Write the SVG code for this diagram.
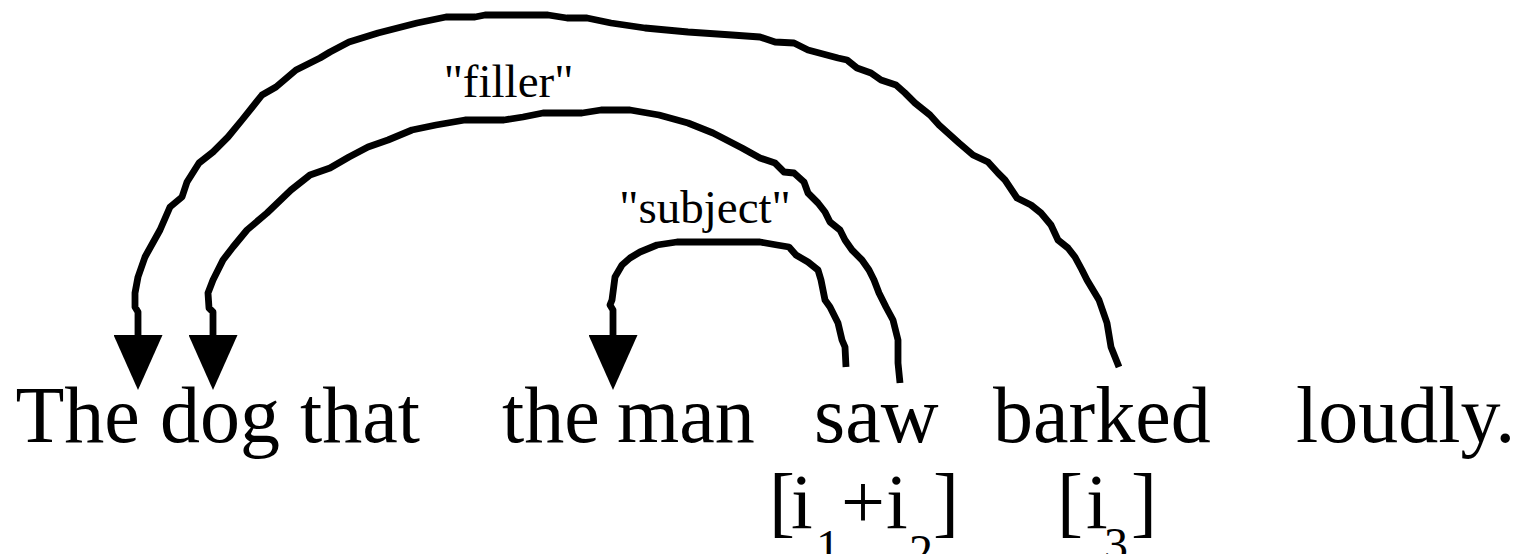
<svg xmlns="http://www.w3.org/2000/svg" width="1527" height="554" viewBox="0 0 1527 554">
<style>
.w{font-family:"Liberation Serif","Times New Roman",serif;font-size:80px;fill:#000}
.i{font-family:"Liberation Serif","Times New Roman",serif;font-size:78px;fill:#000}
.s{font-size:48px}
.lbl{font-family:"Liberation Serif","Times New Roman",serif;font-size:47px;fill:#000;text-anchor:middle}
.arc{fill:none;stroke:#000;stroke-width:6.8;stroke-linejoin:round;stroke-linecap:butt;marker-end:url(#ah)}
</style>
<defs>
<marker id="ah" markerUnits="userSpaceOnUse" orient="auto" viewBox="0 -24.5 55 49" refX="5" refY="0" markerWidth="55" markerHeight="49">
<path d="M0,-24.5 L55,0 L0,24.5 Z" fill="#000"/>
</marker>
</defs>
<rect width="1527" height="554" fill="#fff"/>
<g id="connectors">
<polyline class="arc" points="1119,367 1111,347 1107,323 1099,300 1087,280 1082,270 1075,257 1068,248 1058,240 1051,225 1041,213 1031,205 1017,198 1005,180 998,173 988,162 973,155 959,143 939,125 930,115 915,103 905,93 896,85 881,80 871,73 857,68 847,60 838,58 808,50 794,43 775,42 760,37 732,35 688,32 645,28 611,23 587,18 567,18 548,15 485,15 475,17 446,17 417,23 378,33 349,42 330,52 320,58 296,70 276,87 262,95 242,120 228,137 213,152 199,163 187,182 182,197 170,207 160,230 145,257 138,277 135,293 135,307 138,312 138,340"/>
<polyline class="arc" points="900,383 898,363 898,340 893,320 886,307 879,293 874,280 869,270 862,260 852,250 845,240 840,230 830,222 825,212 818,203 808,193 804,182 794,173 784,172 775,163 760,158 742,148 713,133 688,123 659,115 630,110 601,110 582,113 543,113 523,117 504,120 465,120 436,125 412,130 388,140 368,147 349,157 330,168 310,175 291,190 267,213 247,230 233,247 223,260 213,280 208,293 209,308 213,312 213,340"/>
<polyline class="arc" points="846,367 845,347 842,340 838,323 830,307 825,300 821,280 818,270 808,262 796,255 789,247 777,245 760,242 677,242 657,245 640,252 630,258 622,265 615,277 612,300 610,305 613,310 613,340"/>
</g>
<g id="label-filler"><text class="lbl" x="508.5" y="97">"filler"</text></g>
<g id="label-subject"><text class="lbl" x="705" y="223">"subject"</text></g>
<g id="w-the1"><text class="w" x="15.5" y="442">The</text></g>
<g id="w-dog"><text class="w" x="160" y="442">dog</text></g>
<g id="w-that"><text class="w" x="300" y="442">that</text></g>
<g id="w-the2"><text class="w" x="502" y="442">the</text></g>
<g id="w-man"><text class="w" x="617" y="442">man</text></g>
<g id="w-saw"><text class="w" x="814" y="442">saw</text></g>
<g id="w-barked"><text class="w" x="993" y="442">barked</text></g>
<g id="w-loudly"><text class="w" x="1296" y="442">loudly.</text></g>
<g id="idx-saw"><text class="i" y="528"><tspan x="769">[</tspan><tspan x="791">i</tspan><tspan class="s" x="816" y="563">1</tspan><tspan x="841" y="528">+</tspan><tspan x="886">i</tspan><tspan class="s" x="909" y="568">2</tspan><tspan x="933" y="528">]</tspan></text></g>
<g id="idx-barked"><text class="i" y="528"><tspan x="1057">[</tspan><tspan x="1086">i</tspan><tspan class="s" x="1104" y="561">3</tspan><tspan x="1131" y="528">]</tspan></text></g>
</svg>
